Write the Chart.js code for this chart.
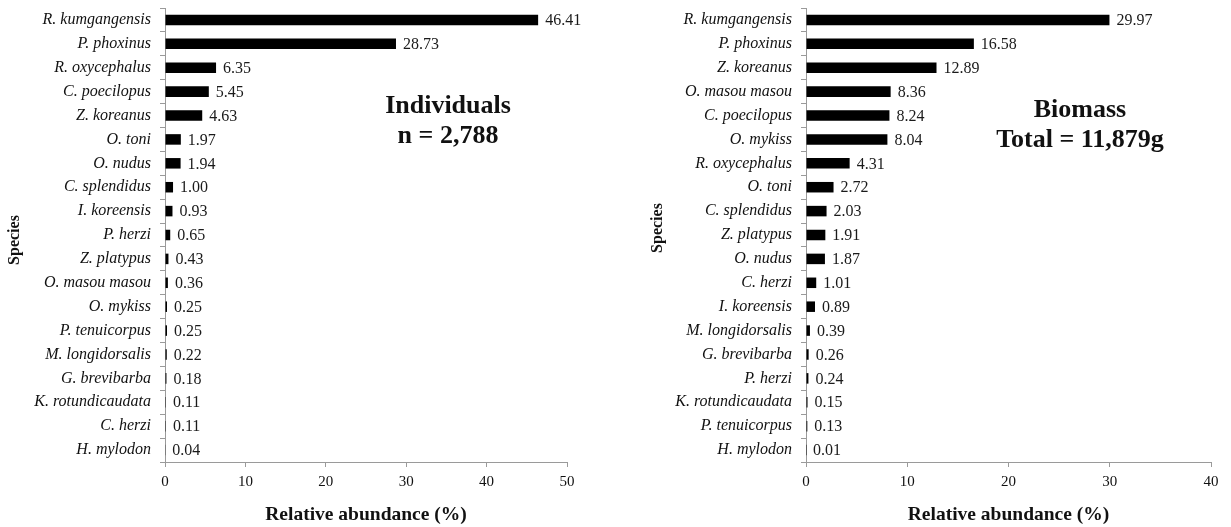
<!DOCTYPE html>
<html>
<head>
<meta charset="utf-8">
<script src="https://cdn.jsdelivr.net/npm/chart.js@4/dist/chart.umd.min.js"></script>
<style>
  html, body { margin: 0; padding: 0; background: #fff; }
  #wrap { position: relative; width: 1231px; height: 527px; }
  .panel { position: absolute; top: 0; height: 527px; }
</style>
</head>
<body>
<div id="wrap">
  <div class="panel" style="left:0;width:615px"><canvas id="c1"></canvas></div>
  <div class="panel" style="left:615px;width:616px"><canvas id="c2"></canvas></div>
</div>
<script>
const indSpecies = ["R. kumgangensis","P. phoxinus","R. oxycephalus","C. poecilopus","Z. koreanus","O. toni","O. nudus","C. splendidus","I. koreensis","P. herzi","Z. platypus","O. masou masou","O. mykiss","P. tenuicorpus","M. longidorsalis","G. brevibarba","K. rotundicaudata","C. herzi","H. mylodon"];
const indValues = [46.41,28.73,6.35,5.45,4.63,1.97,1.94,1.00,0.93,0.65,0.43,0.36,0.25,0.25,0.22,0.18,0.11,0.11,0.04];
const bioSpecies = ["R. kumgangensis","P. phoxinus","Z. koreanus","O. masou masou","C. poecilopus","O. mykiss","R. oxycephalus","O. toni","C. splendidus","Z. platypus","O. nudus","C. herzi","I. koreensis","M. longidorsalis","G. brevibarba","P. herzi","K. rotundicaudata","P. tenuicorpus","H. mylodon"];
const bioValues = [29.97,16.58,12.89,8.36,8.24,8.04,4.31,2.72,2.03,1.91,1.87,1.01,0.89,0.39,0.26,0.24,0.15,0.13,0.01];
const indTicks = [0,10,20,30,40,50];
const bioTicks = [0,10,20,30,40];
const indNote = ["Individuals","n = 2,788"];
const bioNote = ["Biomass","Total = 11,879g"];
const xTitle = "Relative abundance (%)";
const yTitle = "Species";

const SERIF = "'Liberation Serif','Times New Roman',serif";
const AXIS = "#9a9a9a";

function makeChart(id, labels, values, ticks, note, cfg) {
  const labelPlugin = {
    id: 'vals',
    afterDatasetsDraw(chart) {
      const ctx = chart.ctx;
      const meta = chart.getDatasetMeta(0);
      ctx.save();
      ctx.font = "16px " + SERIF;
      ctx.fillStyle = "#1a1a1a";
      ctx.textAlign = "left";
      ctx.textBaseline = "middle";
      meta.data.forEach((bar, i) => {
        ctx.fillText(values[i].toFixed(2), bar.x + 7, bar.y + 1);
      });
      ctx.font = "bold 26px " + SERIF;
      ctx.textAlign = "center";
      ctx.fillStyle = "#111";
      ctx.fillText(note[0], cfg.noteX, cfg.noteY);
      ctx.fillText(note[1], cfg.noteX, cfg.noteY + 30);
      // y axis title
      ctx.font = "bold 16px " + SERIF;
      ctx.translate(cfg.yTitleX, cfg.yTitleY);
      ctx.rotate(-Math.PI / 2);
      ctx.textBaseline = "middle";
      ctx.fillText(yTitle, 0, 0);
      ctx.restore();
    }
  };
  return new Chart(document.getElementById(id), {
    type: 'bar',
    data: {
      labels: labels,
      datasets: [{
        data: values,
        backgroundColor: '#000',
        borderWidth: 0,
        barPercentage: 0.44,
        categoryPercentage: 1.0
      }]
    },
    options: {
      indexAxis: 'y',
      responsive: true,
      maintainAspectRatio: false,
      animation: false,
      events: [],
      layout: { padding: { top: 8, right: cfg.padRight, left: 0, bottom: 0 } },
      plugins: { legend: { display: false }, tooltip: { enabled: false } },
      scales: {
        x: {
          min: 0, max: ticks[ticks.length - 1],
          afterBuildTicks(s) { s.ticks = ticks.map(v => ({ value: v })); },
          afterFit(s) { s.height = 65; },
          border: { display: true, color: AXIS, width: 1 },
          grid: { drawOnChartArea: false, drawTicks: true, tickLength: 5, color: AXIS },
          ticks: { color: '#111', font: { family: SERIF, size: 15 }, padding: 6, maxRotation: 0 },
          title: { display: true, text: xTitle, color: '#111', font: { family: SERIF, size: 19.5, weight: 'bold' }, padding: { top: 0, bottom: 0 } }
        },
        y: {
          afterFit(s) { s.width = cfg.yWidth; s.paddingTop = 0; s.paddingBottom = 0; },
          border: { display: true, color: AXIS, width: 1 },
          grid: { drawOnChartArea: false, drawTicks: true, tickLength: 5, color: AXIS, offset: true },
          ticks: { color: '#111', font: { family: SERIF, size: 16, style: 'italic' }, padding: 9, autoSkip: false },
          title: { display: false }
        }
      }
    },
    plugins: [labelPlugin]
  });
}

makeChart('c1', indSpecies, indValues, indTicks, indNote, { padRight: 48, yWidth: 165, yTitleX: 15, yTitleY: 240, noteX: 448, noteY: 106 });
makeChart('c2', bioSpecies, bioValues, bioTicks, bioNote, { padRight: 20, yWidth: 191, yTitleX: 43, yTitleY: 228, noteX: 465, noteY: 110 });
</script>
</body>
</html>
